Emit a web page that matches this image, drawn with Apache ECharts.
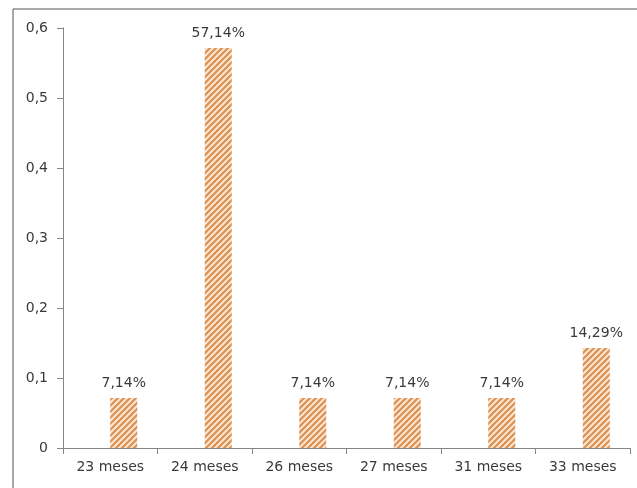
<!DOCTYPE html>
<html>
<head>
<meta charset="utf-8">
<script src="https://cdn.jsdelivr.net/npm/echarts@6/dist/echarts.min.js"></script>
<style>
html,body{margin:0;padding:0;background:#fff;}
#chart{width:637px;height:488px;}
</style>
</head>
<body>
<div id="chart"></div>
<script>
const categories = ['23 meses', '24 meses', '26 meses', '27 meses', '31 meses', '33 meses'];
const values = [0.0714, 0.5714, 0.0714, 0.0714, 0.0714, 0.1429];
const emptySeries = [null, null, null, null, null, null];
const yTicks = { min: 0, max: 0.6, interval: 0.1 };

function makePattern() {
  const s = 6;
  const c = document.createElement('canvas');
  c.width = s; c.height = s;
  const g = c.getContext('2d');
  g.fillStyle = '#FBEBDC';
  g.fillRect(0, 0, s, s);
  g.strokeStyle = '#DE9455';
  g.lineWidth = 2.3;
  g.beginPath();
  g.moveTo(-1, s + 1); g.lineTo(s + 1, -1);
  g.moveTo(-1, 1); g.lineTo(1, -1);
  g.moveTo(s - 1, s + 1); g.lineTo(s + 1, s - 1);
  g.stroke();
  return c;
}

const chart = echarts.init(document.getElementById('chart'), null, { renderer: 'canvas' });
const font = 'DejaVu Sans';
chart.setOption({
  animation: false,
  grid: { left: 63, right: 7, top: 28, bottom: 40, containLabel: false },
  graphic: [
    { type: 'line', shape: { x1: 13, y1: 9, x2: 637, y2: 9 }, style: { stroke: '#8c8c8c', lineWidth: 1.5 } },
    { type: 'line', shape: { x1: 13, y1: 9, x2: 13, y2: 488 }, style: { stroke: '#8c8c8c', lineWidth: 1.5 } }
  ],
  xAxis: {
    type: 'category',
    data: categories,
    axisLine: { show: true, lineStyle: { color: '#868686', width: 1 } },
    axisTick: { show: true, alignWithLabel: false, length: 6, lineStyle: { color: '#868686' } },
    axisLabel: { color: '#3a3a3a', fontFamily: font, fontSize: 14, margin: 12 },
    splitLine: { show: false }
  },
  yAxis: {
    type: 'value',
    min: yTicks.min, max: yTicks.max, interval: yTicks.interval,
    axisLine: { show: true, lineStyle: { color: '#868686', width: 1 } },
    axisTick: { show: true, length: 6, lineStyle: { color: '#868686' } },
    axisLabel: {
      color: '#3a3a3a', fontFamily: font, fontSize: 14, margin: 15,
      formatter: v => v === 0 ? '0' : v.toFixed(1).replace('.', ',')
    },
    splitLine: { show: false }
  },
  series: [
    { type: 'bar', data: emptySeries, barWidth: 27, barGap: '0%', silent: true },
    {
      type: 'bar', data: values, barWidth: 27, barGap: '0%',
      itemStyle: { color: { image: makePattern(), repeat: 'repeat' } },
      label: {
        show: true, position: 'top', distance: 8,
        color: '#3a3a3a', fontFamily: font, fontSize: 14,
        formatter: p => (p.value * 100).toFixed(2).replace('.', ',') + '%'
      }
    }
  ]
});
</script>
</body>
</html>
